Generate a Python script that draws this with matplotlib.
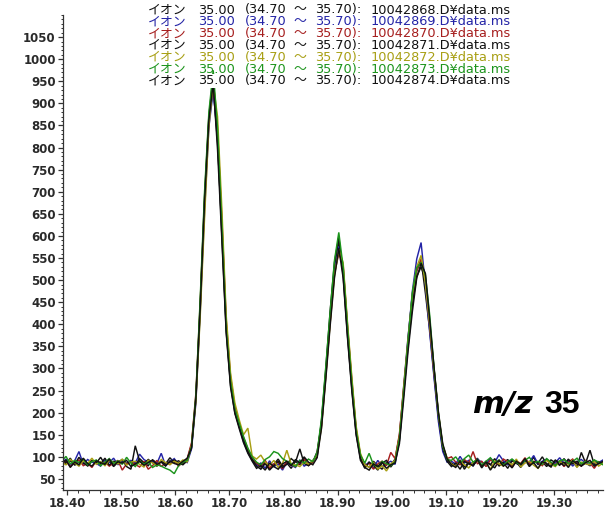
import numpy as np
import matplotlib
matplotlib.use("Agg")
import matplotlib.pyplot as plt
from matplotlib.ticker import MultipleLocator, FormatStrFormatter

# Extracted ion chromatograms, m/z 35, seven runs
t_start = 18.390          # min
t_step = 0.008            # min per scan
n_scans = 126
times = t_start + t_step * np.arange(n_scans)

run_ids = ["10042868", "10042869", "10042870", "10042871",
           "10042872", "10042873", "10042874"]
run_colors = ["#111111", "#2424a6", "#a61e1e", "#111111",
              "#a89f14", "#1c941c", "#111111"]

abund_68 = [92, 84, 97, 81, 88, 95, 79, 90, 86, 99, 83, 91, 78, 88, 94, 85, 90, 82, 96, 87,
            80, 93, 86, 89, 84, 98, 87, 91, 85, 94,
            128, 236, 440, 672, 858, 938, 812, 615, 396, 268, 206, 172, 138, 114, 96,
            84, 77, 88, 72, 83, 95, 79, 86, 74, 90, 82, 97, 80, 88,
            112, 176, 292, 418, 528, 588, 522, 384, 262, 158, 102,
            84, 76, 90, 80, 72, 87, 81, 95,
            148, 262, 372, 468, 522, 546, 470, 386, 284, 188, 118, 92,
            86, 80, 93, 77, 88, 84, 97, 79, 90, 83, 75, 91, 86, 94, 80, 88, 76, 92,
            85, 99, 82, 89, 78, 93, 87, 81, 96, 84, 90, 77, 110, 86, 80, 92, 84, 88]
abund_69 = [86, 95, 80, 91, 112, 83, 94, 88, 85, 79, 93, 87, 97, 82, 90, 84, 92, 86, 106, 94,
            88, 90, 85, 108, 80, 89, 96, 83, 90, 87,
            118, 222, 428, 655, 846, 928, 826, 632, 402, 276, 210, 168, 134, 110, 92,
            80, 86, 74, 91, 78, 84, 70, 88, 81, 76, 93, 79, 85, 90,
            105, 170, 284, 410, 522, 576, 530, 392, 270, 162, 98,
            80, 88, 74, 92, 78, 85, 90, 83,
            140, 250, 368, 476, 548, 585, 488, 380, 278, 180, 112, 88,
            90, 84, 101, 86, 92, 79, 95, 88, 83, 97, 87, 105, 91, 82, 94, 86, 80, 92,
            88, 103, 84, 90, 95, 81, 87, 98, 85, 92, 79, 89, 94, 86, 82, 90, 87, 93]
abund_70 = [82, 90, 78, 87, 93, 80, 85, 76, 91, 84, 88, 79, 86, 92, 70, 84, 89, 83, 77, 90,
            72, 80, 92, 78, 86, 83, 91, 79, 88, 96,
            132, 244, 452, 684, 866, 940, 838, 640, 410, 282, 214, 178, 144, 118, 98,
            86, 79, 92, 75, 84, 88, 73, 90, 82, 78, 86, 94, 81, 87,
            108, 172, 288, 405, 515, 560, 535, 400, 276, 165, 104,
            78, 86, 72, 84, 90, 80, 110, 96,
            152, 258, 360, 462, 520, 548, 505, 395, 290, 195, 124, 96,
            100, 88, 82, 94, 86, 112, 84, 90, 78, 93, 87, 81, 95, 89, 76, 91, 85, 98,
            83, 90, 87, 80, 94, 86, 82, 91, 78, 88, 95, 84, 79, 92, 86, 74, 89, 83]
abund_71 = [95, 87, 91, 83, 99, 86, 80, 92, 88, 84, 97, 81, 90, 86, 93, 78, 72, 125, 91, 85,
            94, 87, 79, 90, 84, 88, 93, 86, 82, 91,
            122, 230, 446, 690, 872, 962, 820, 600, 384, 262, 200, 168, 140, 112, 94,
            79, 72, 85, 70, 80, 90, 76, 83, 96, 88, 118, 85, 80, 92,
            100, 182, 300, 430, 540, 598, 510, 375, 255, 152, 96,
            74, 88, 81, 70, 86, 92, 77, 90,
            136, 245, 350, 445, 508, 530, 500, 402, 298, 196, 120, 90,
            78, 86, 72, 90, 84, 80, 93, 75, 88, 82, 96, 79, 87, 74, 91, 85, 81, 94,
            78, 89, 86, 100, 83, 77, 92, 88, 80, 95, 84, 90, 79, 86, 115, 82, 88, 85]
abund_72 = [88, 82, 94, 86, 79, 91, 85, 97, 83, 89, 80, 92, 87, 84, 95, 81, 88, 90, 83, 77,
            92, 86, 80, 94, 87, 82, 90, 85, 93, 88,
            126, 226, 418, 640, 848, 944, 870, 662, 420, 290, 222, 184, 150, 165, 102,
            95, 104, 88, 80, 92, 76, 85, 115, 84, 82, 78, 88, 84, 91,
            104, 166, 280, 402, 510, 570, 540, 405, 282, 170, 108,
            82, 76, 88, 72, 80, 68, 84, 92,
            144, 255, 364, 470, 530, 556, 492, 398, 296, 200, 126, 98,
            84, 78, 90, 82, 75, 88, 93, 80, 86, 72, 91, 84, 79, 88, 82, 95, 77, 86,
            90, 81, 74, 87, 92, 83, 78, 89, 85, 80, 93, 76, 88, 84, 82, 90, 79, 86]
abund_73 = [90, 101, 84, 92, 87, 95, 82, 89, 93, 80, 88, 96, 85, 91, 83, 99, 86, 78, 90, 84,
            88, 76, 82, 79, 74, 70, 62, 80, 88, 92,
            124, 240, 460, 700, 880, 975, 845, 625, 392, 272, 208, 176, 146, 120, 100,
            88, 82, 94, 100, 112, 108, 96, 90, 84, 78, 92, 86, 95, 89,
            110, 186, 305, 428, 545, 608, 530, 395, 268, 160, 104,
            86, 108, 82, 78, 90, 84, 80, 88,
            142, 248, 362, 472, 528, 540, 512, 420, 300, 198, 126, 94,
            92, 100, 86, 96, 104, 88, 94, 82, 90, 98, 86, 93, 81, 89, 95, 87, 84, 92,
            99, 86, 90, 83, 96, 88, 80, 91, 94, 85, 89, 97, 84, 90, 86, 93, 88, 82]
abund_74 = [84, 93, 76, 88, 82, 97, 85, 79, 91, 87, 83, 95, 80, 89, 86, 92, 78, 84, 90, 81,
            87, 93, 83, 88, 79, 91, 85, 82, 90, 97,
            120, 232, 436, 676, 862, 945, 795, 590, 380, 258, 198, 164, 132, 108, 90,
            74, 80, 70, 86, 78, 72, 84, 90, 80, 94, 86, 100, 88, 82,
            98, 164, 276, 396, 505, 572, 505, 370, 250, 150, 92,
            76, 70, 84, 78, 88, 74, 82, 86,
            130, 232, 340, 430, 505, 538, 515, 410, 302, 202, 130, 96,
            82, 76, 90, 72, 86, 80, 94, 78, 88, 70, 84, 92, 79, 86, 75, 90, 83, 96,
            80, 87, 74, 89, 85, 78, 93, 82, 88, 76, 91, 84, 80, 87, 92, 79, 85, 90]

abundances = [abund_68, abund_69, abund_70, abund_71, abund_72, abund_73, abund_74]

x_ticks = [18.40, 18.50, 18.60, 18.70, 18.80, 18.90, 19.00, 19.10, 19.20, 19.30]
y_ticks = list(range(50, 1051, 50))

# header fields of each run line and their left edges (px)
header_fields = ["イオン", "35.00", "(34.70", "〜", "35.70):", "{}.D¥data.ms"]
field_x = [148, 198, 245, 293, 315, 371]
line_y = [10.0, 21.9, 33.7, 45.5, 57.3, 69.1, 80.9]

W, H = 606.0, 512.0
fig = plt.figure(figsize=(W / 100, H / 100), dpi=100)
ax = fig.add_axes([0.1035, 0.043, 0.8915, 0.9277])

for vals, col in zip(abundances, run_colors):
    ax.plot(times, vals, color=col, lw=1.05, solid_joinstyle="miter")

ax.set_xlim(18.392, 19.39)
ax.set_ylim(25, 1100)

ax.set_xticks(x_ticks)
ax.xaxis.set_major_formatter(FormatStrFormatter("%.2f"))
ax.xaxis.set_minor_locator(MultipleLocator(0.02))
ax.set_yticks(y_ticks)
ax.yaxis.set_minor_locator(MultipleLocator(10))

for side in ("top", "right"):
    ax.spines[side].set_visible(False)
for side in ("left", "bottom"):
    ax.spines[side].set_color("#333333")
    ax.spines[side].set_linewidth(0.9)

ax.tick_params(which="major", direction="out", length=3.5, width=0.9,
               color="#333333", labelcolor="#2a2a2a", labelsize=8.5, pad=1.5)
ax.tick_params(which="minor", direction="out", length=1.8, width=0.7, color="#333333")
for lbl in ax.get_xticklabels() + ax.get_yticklabels():
    lbl.set_fontfamily("DejaVu Sans")
    lbl.set_fontweight("bold")

# run header lines; the last one sits on an opaque background over the traces
for k, (rid, col, yy) in enumerate(zip(run_ids, run_colors, line_y)):
    for field, fx in zip(header_fields, field_x):
        kw = {}
        if k == len(run_ids) - 1:
            kw["bbox"] = dict(facecolor="white", edgecolor="none", pad=0.4)
        fig.text(fx / W, 1 - yy / H, field.format(rid), color=col,
                 fontsize=9.3, family=["DejaVu Sans", "Noto Sans CJK JP"],
                 ha="left", va="center", **kw)

# m/z annotation
fig.text(472 / W, 1 - 413 / H, "m/z", fontsize=22, family="DejaVu Sans",
         weight="bold", style="oblique", ha="left", va="baseline", color="black")
fig.text(580 / W, 1 - 413 / H, "35", fontsize=23, family="Liberation Sans",
         weight="bold", ha="right", va="baseline", color="black")

fig.savefig("out.png", dpi=100)
